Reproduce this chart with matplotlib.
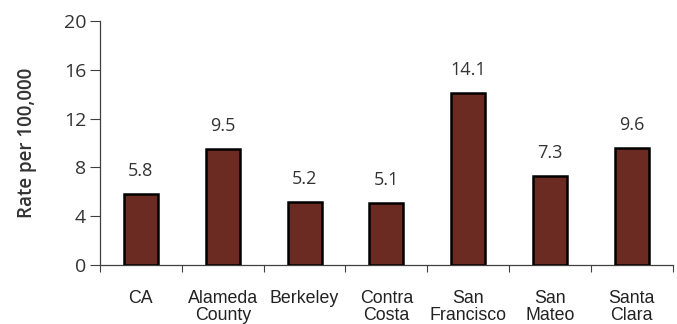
import matplotlib

matplotlib.use("Agg")

import matplotlib.pyplot as plt
from matplotlib.ticker import FixedLocator

# Rates per 100,000 by area
categories = ["CA", "Alameda\nCounty", "Berkeley", "Contra\nCosta",
              "San\nFrancisco", "San\nMateo", "Santa\nClara"]
rates = [5.8, 9.5, 5.2, 5.1, 14.1, 7.3, 9.6]
y_ticks = [0, 4, 8, 12, 16, 20]

BAR_COLOR = "#6B2A22"
AXIS_COLOR = "#404040"
TEXT_COLOR = "#333333"

fig = plt.figure(figsize=(6.77, 3.24), dpi=100)
ax = fig.add_axes([0.1477, 0.182, 0.846, 0.753])

x = list(range(len(categories)))
bars = ax.bar(x, rates, width=0.415, color=BAR_COLOR, edgecolor="black",
              linewidth=1.8, zorder=3)

for bar, rate in zip(bars, rates):
    ax.annotate(f"{rate:.1f}", (bar.get_x() + bar.get_width() / 2, bar.get_height()),
                xytext=(0, 10), textcoords="offset points", ha="center", va="bottom",
                fontsize=13, color=TEXT_COLOR, family="Open Sans")

ax.set_xlim(-0.5, len(categories) - 0.5)
ax.set_ylim(0, 20)
ax.set_yticks(y_ticks)
ax.set_yticklabels([str(t) for t in y_ticks], family="Open Sans", fontsize=14,
                   color=TEXT_COLOR)

ax.set_xticks(x)
ax.set_xticklabels(categories, family="Liberation Sans", fontsize=12.8,
                   color="#222222", linespacing=1.0, va="top")
ax.tick_params(axis="x", which="major", length=0, pad=18)
ax.xaxis.set_minor_locator(FixedLocator([i - 0.5 for i in range(len(categories) + 1)]))
ax.tick_params(axis="x", which="minor", length=5, width=0.8, color=AXIS_COLOR,
               direction="out")
ax.tick_params(axis="y", length=7, width=0.8, color=AXIS_COLOR, pad=3)

ax.set_ylabel("Rate per 100,000", family="Open Sans", fontweight="semibold",
              fontsize=13.5, color=TEXT_COLOR, labelpad=19)

for side in ("top", "right"):
    ax.spines[side].set_visible(False)
for side in ("left", "bottom"):
    ax.spines[side].set_color(AXIS_COLOR)
    ax.spines[side].set_linewidth(0.9)

fig.savefig("out.png", dpi=100)
plt.close(fig)
